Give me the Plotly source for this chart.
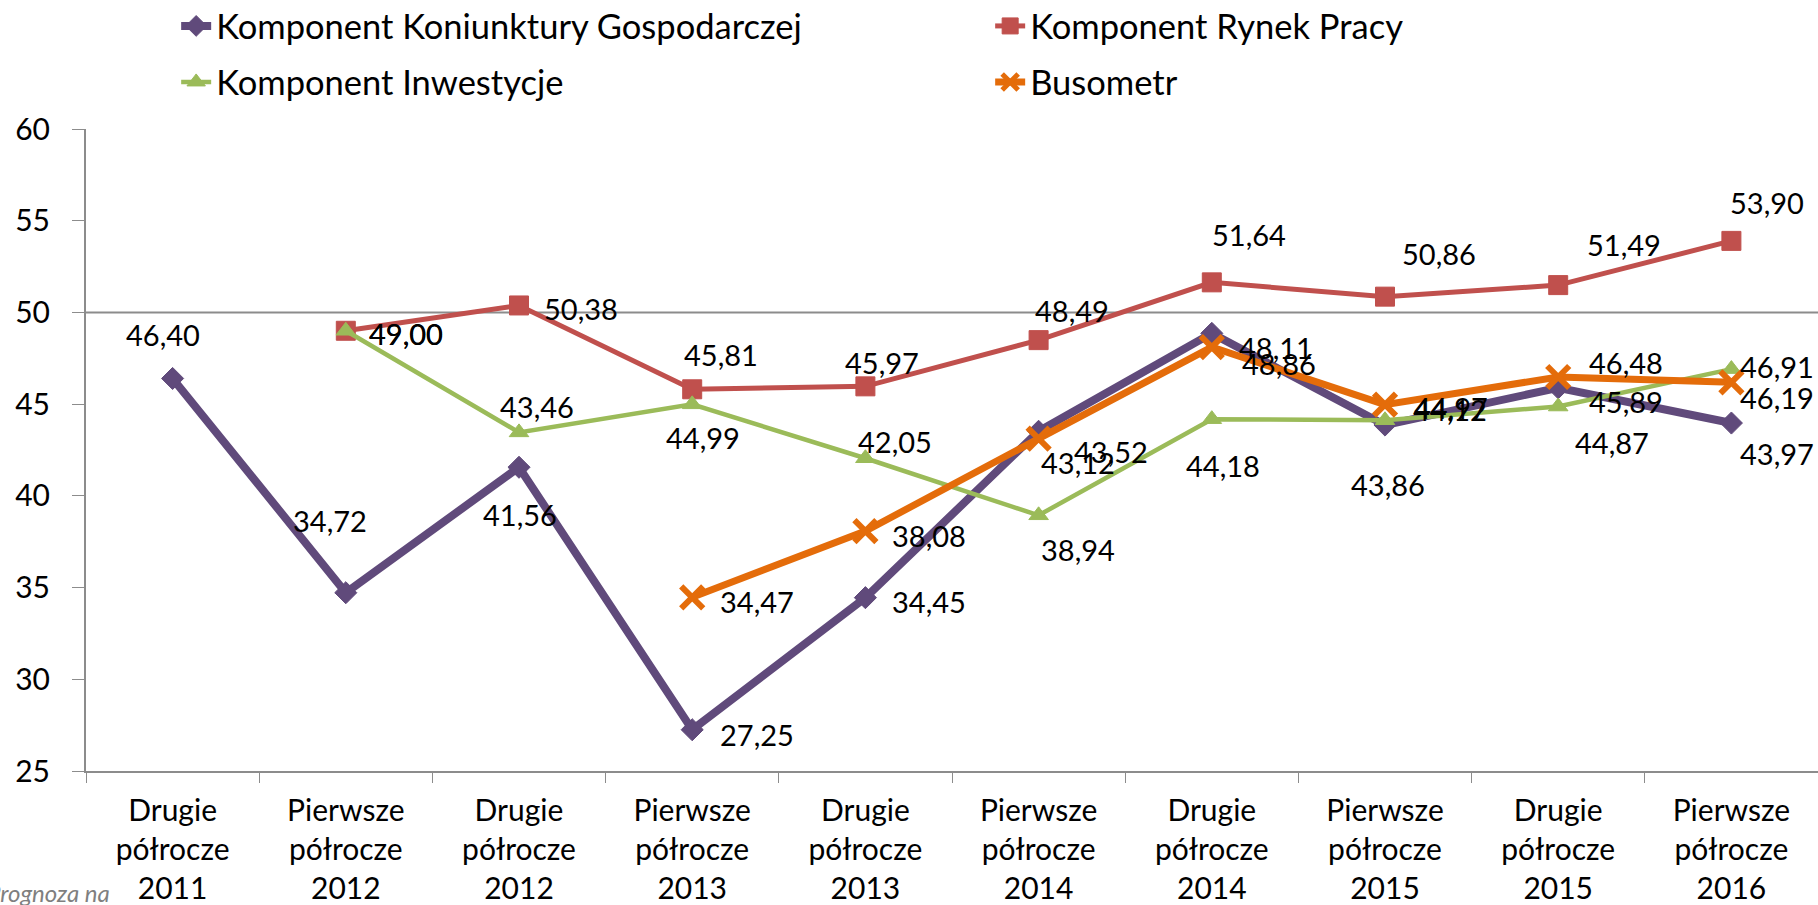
import plotly.graph_objects as go

# ---------------- data ----------------
periods = ["Drugie", "Pierwsze", "Drugie", "Pierwsze", "Drugie",
           "Pierwsze", "Drugie", "Pierwsze", "Drugie", "Pierwsze"]
years = ["2011", "2012", "2012", "2013", "2013", "2014", "2014", "2015", "2015", "2016"]
categories = [f"{p}<br>półrocze<br>{y}" for p, y in zip(periods, years)]

koniunktura = [46.40, 34.72, 41.56, 27.25, 34.45, 43.52, 48.86, 43.86, 45.89, 43.97]
rynek_pracy = [None, 49.00, 50.38, 45.81, 45.97, 48.49, 51.64, 50.86, 51.49, 53.90]
inwestycje = [None, 49.00, 43.46, 44.99, 42.05, 38.94, 44.18, 44.12, 44.87, 46.91]
busometr = [None, None, None, 34.47, 38.08, 43.12, 48.11, 44.97, 46.48, 46.19]

names = ["Komponent Koniunktury Gospodarczej", "Komponent Rynek Pracy",
         "Komponent Inwestycje", "Busometr"]

# ---------------- label offsets (screen px: dx right, dy down) ----------------
off_kon = [(-10, -44), (-16, -72), (1, 47), (65, 5), (64, 4), (72, 20), (67, 30), (3, 59), (68, 14), (46, 30)]
off_ryn = [None, (60, 3), (62, 3), (29, -35), (17, -24), (33, -30), (37, -48), (54, -43), (66, -41), (36, -38)]
off_inw = [None, (60, 3), (18, -26), (11, 33), (30, -17), (39, 34), (11, 46), (65, -11), (54, 36), (46, -3)]
off_bus = [None, None, None, (65, 4), (64, 4), (39, 24), (64, 0), (66, 3), (68, -15), (46, 15)]

FONT = "Lato"
purple, red, green, orange = "#604A7B", "#C0504D", "#9BBB59", "#E46C0A"
axis_gray = "#8C8C8C"

L, R, T, B = 86, 0, 129, 134
W, H = 1818, 905

fig = go.Figure()
series = [
    (koniunktura, names[0], purple, 8, "diamond", 17, "legend"),
    (rynek_pracy, names[1], red, 5, "square", 19, "legend"),
    (inwestycje, names[2], green, 4.5, "triangle-up", 17, "legend2"),
    (busometr, names[3], orange, 7, "x-thin", 22, "legend2"),
]
for vals, name, col, lw, sym, ms, leg in series:
    mline = dict(color=col, width=6 if sym == "x-thin" else 1)
    fig.add_trace(go.Scatter(
        x=categories, y=vals, name=name, mode="lines+markers",
        line=dict(color=col, width=lw),
        marker=dict(symbol=sym, size=ms, color=col, line=mline),
        connectgaps=False, legend=leg,
    ))

# data labels
for vals, offs in [(koniunktura, off_kon), (rynek_pracy, off_ryn),
                   (inwestycje, off_inw), (busometr, off_bus)]:
    for cat, v, o in zip(categories, vals, offs):
        if v is None:
            continue
        fig.add_annotation(
            x=cat, y=v, xref="x", yref="y",
            text=f"{v:.2f}".replace(".", ","),
            showarrow=False, xanchor="center", yanchor="middle",
            xshift=o[0], yshift=-o[1],
            font=dict(family=FONT, size=29, color="black"),
        )

# horizontal reference line at 50
fig.add_shape(type="line", xref="paper", yref="y", x0=0, x1=1, y0=50, y1=50,
              line=dict(color=axis_gray, width=2), layer="below")

# source text (cut at left edge)
fig.add_annotation(
    text="<i>Prognoza na</i>", xref="paper", yref="paper",
    x=(112 - L) / (W - L - R), y=-(893 - (H - B)) / (H - T - B),
    xanchor="right", yanchor="middle", showarrow=False,
    font=dict(family=FONT, size=24, color="#7F7F7F"),
)

fig.update_layout(
    width=W, height=H,
    margin=dict(l=L, r=R, t=T, b=B, autoexpand=False),
    paper_bgcolor="white", plot_bgcolor="white",
    font=dict(family=FONT, size=28, color="black"),
    legend=dict(orientation="h", xref="container", yref="container",
                x=0.0969, y=1 - 26 / H, xanchor="left", yanchor="middle",
                entrywidth=769, entrywidthmode="pixels",
                font=dict(family=FONT, size=34.5, color="black"),
                bgcolor="rgba(0,0,0,0)"),
    legend2=dict(orientation="h", xref="container", yref="container",
                 x=0.0969, y=1 - 82 / H, xanchor="left", yanchor="middle",
                 entrywidth=769, entrywidthmode="pixels",
                 font=dict(family=FONT, size=34.5, color="black"),
                 bgcolor="rgba(0,0,0,0)"),
    xaxis=dict(
        type="category", range=[-0.5, 9.5], automargin=False,
        showline=True, linecolor=axis_gray, linewidth=2,
        ticks="outside", tickson="boundaries", ticklen=10, tickcolor=axis_gray, tickwidth=1,
        showgrid=False, zeroline=False, ticklabelstandoff=12,
        tickfont=dict(family=FONT, size=30, color="black"),
    ),
    yaxis=dict(
        range=[25, 60], dtick=5, tick0=25, automargin=False,
        showline=True, linecolor=axis_gray, linewidth=2,
        ticks="outside", ticklen=12, tickcolor=axis_gray, tickwidth=1,
        showgrid=False, zeroline=False,
        ticklabelstandoff=16,
        tickfont=dict(family=FONT, size=30, color="black"),
    ),
)

fig.write_html("out.html", config={"displayModeBar": False},
               post_script="document.body.style.margin='0px';")
